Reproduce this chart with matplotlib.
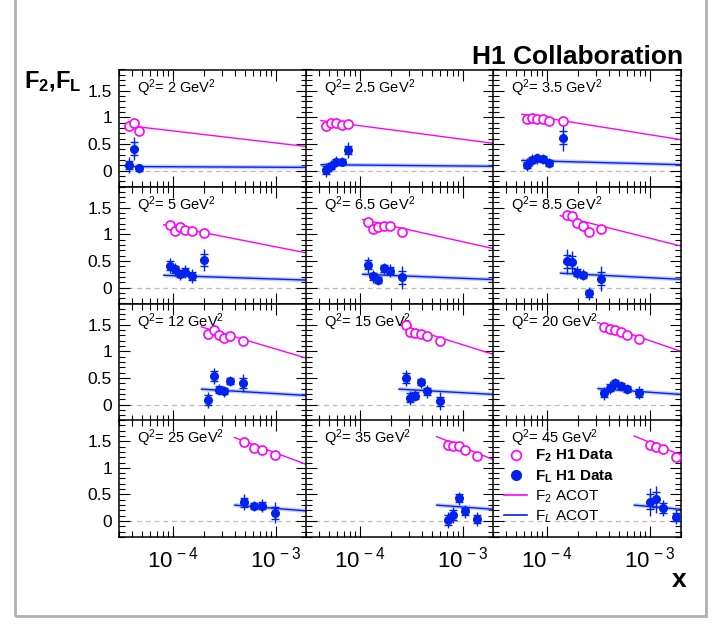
import numpy as np
import matplotlib
matplotlib.use('Agg')
import matplotlib.pyplot as plt
import matplotlib.ticker as ticker
from matplotlib.lines import Line2D
from matplotlib.patches import Rectangle

plt.rcParams['font.family'] = ['Liberation Sans', 'DejaVu Sans']
plt.rcParams['mathtext.fontset'] = 'custom'
plt.rcParams['mathtext.rm'] = 'Liberation Sans'
plt.rcParams['mathtext.it'] = 'Liberation Sans:italic'
plt.rcParams['mathtext.bf'] = 'Liberation Sans:bold'

# Q2 bins (GeV^2)
q2_labels = ['2', '2.5', '3.5', '5', '6.5', '8.5', '12', '15', '20', '25', '35', '45']

# x values of the measurements per bin
x_data = [
    [3.75e-5, 4.19e-5, 4.68e-5],
    [4.74e-5, 5.26e-5, 5.84e-5, 6.67e-5, 7.72e-5],
    [6.47e-5, 7.22e-5, 8.07e-5, 9.15e-5, 1.05e-4, 1.42e-4],
    [9.35e-5, 1.045e-4, 1.167e-4, 1.31e-4, 1.52e-4, 2.02e-4],
    [1.21e-4, 1.34e-4, 1.51e-4, 1.70e-4, 1.96e-4, 2.59e-4],
    [1.56e-4, 1.75e-4, 1.94e-4, 2.22e-4, 2.55e-4, 3.36e-4],
    [2.20e-4, 2.48e-4, 2.79e-4, 3.14e-4, 3.61e-4, 4.79e-4],
    [2.77e-4, 3.07e-4, 3.45e-4, 3.89e-4, 4.48e-4, 5.92e-4],
    [3.61e-4, 4.10e-4, 4.57e-4, 5.18e-4, 5.97e-4, 7.89e-4],
    [4.85e-4, 6.06e-4, 7.39e-4, 9.72e-4],
    [7.13e-4, 7.96e-4, 9.10e-4, 1.04e-3, 1.37e-3],
    [1.01e-3, 1.15e-3, 1.33e-3, 1.77e-3],
]

f2_data = [
    [0.84, 0.90, 0.74],
    [0.84, 0.90, 0.89, 0.86, 0.88],
    [0.97, 0.98, 0.97, 0.96, 0.925, 0.925],
    [1.18, 1.07, 1.13, 1.09, 1.07, 1.02],
    [1.23, 1.10, 1.14, 1.16, 1.15, 1.05],
    [1.36, 1.34, 1.21, 1.16, 1.04, 1.10],
    [1.33, 1.40, 1.31, 1.26, 1.28, 1.20],
    [1.50, 1.37, 1.34, 1.33, 1.28, 1.19],
    [1.45, 1.42, 1.40, 1.36, 1.30, 1.23],
    [1.49, 1.38, 1.34, 1.25],
    [1.43, 1.42, 1.41, 1.33, 1.23],
    [1.43, 1.39, 1.36, 1.21],
]

fl_data = [
    [0.10, 0.41, 0.04],
    [0.01, 0.09, 0.17, 0.17, 0.39],
    [0.11, 0.20, 0.23, 0.22, 0.14, 0.62],
    [0.41, 0.34, 0.25, 0.30, 0.22, 0.52],
    [0.43, 0.21, 0.14, 0.36, 0.32, 0.19],
    [0.49, 0.48, 0.28, 0.24, -0.11, 0.17],
    [0.09, 0.54, 0.28, 0.25, 0.44, 0.40],
    [0.50, 0.13, 0.17, 0.42, 0.25, 0.06],
    [0.21, 0.32, 0.40, 0.35, 0.29, 0.22],
    [0.35, 0.28, 0.29, 0.155],
    [0.02, 0.11, 0.43, 0.18, 0.04],
    [0.36, 0.41, 0.24, 0.08],
]

# total errors
fl_err = [
    [0.15, 0.22, 0.08],
    [0.13, 0.11, 0.10, 0.08, 0.15],
    [0.12, 0.11, 0.10, 0.09, 0.10, 0.25],
    [0.14, 0.12, 0.10, 0.12, 0.13, 0.20],
    [0.15, 0.12, 0.10, 0.10, 0.12, 0.22],
    [0.23, 0.20, 0.12, 0.10, 0.12, 0.24],
    [0.15, 0.15, 0.10, 0.10, 0.10, 0.17],
    [0.15, 0.13, 0.10, 0.10, 0.12, 0.17],
    [0.12, 0.12, 0.10, 0.10, 0.10, 0.12],
    [0.15, 0.10, 0.12, 0.20],
    [0.15, 0.15, 0.12, 0.12, 0.13],
    [0.26, 0.25, 0.15, 0.13],
]

# statistical errors (inner ticks)
fl_stat = [
    [0.08, 0.12, 0.05],
    [0.07, 0.06, 0.05, 0.05, 0.08],
    [0.06, 0.06, 0.05, 0.05, 0.06, 0.13],
    [0.08, 0.07, 0.06, 0.07, 0.07, 0.11],
    [0.09, 0.07, 0.06, 0.06, 0.07, 0.12],
    [0.12, 0.11, 0.07, 0.06, 0.07, 0.13],
    [0.09, 0.09, 0.06, 0.06, 0.06, 0.09],
    [0.09, 0.08, 0.06, 0.06, 0.07, 0.09],
    [0.07, 0.07, 0.06, 0.06, 0.06, 0.07],
    [0.08, 0.06, 0.07, 0.11],
    [0.09, 0.09, 0.07, 0.07, 0.07],
    [0.14, 0.14, 0.09, 0.07],
]

# ACOT predictions: start x, value at start and at right edge
acot_xstart = [3.46e-5, 4.19e-5, 5.71e-5, 8.14e-5, 1.06e-4, 1.35e-4,
               1.89e-4, 2.39e-4, 3.12e-4, 3.95e-4, 5.54e-4, 7.02e-4]
acot_f2 = [(0.85, 0.45), (0.94, 0.51), (1.06, 0.58), (1.18, 0.65),
           (1.28, 0.73), (1.35, 0.78), (1.46, 0.87), (1.50, 0.94),
           (1.54, 1.00), (1.57, 1.06), (1.59, 1.15), (1.60, 1.24)]
acot_fl = [(0.075, 0.06), (0.11, 0.08), (0.19, 0.11), (0.23, 0.14),
           (0.25, 0.15), (0.27, 0.155), (0.29, 0.17), (0.29, 0.19),
           (0.30, 0.19), (0.30, 0.19), (0.30, 0.22), (0.30, 0.22)]

XMIN, XMAX = 3.0e-5, 2.0e-3
YMIN, YMAX = -0.3, 1.9

W, H = 721, 626
fig = plt.figure(figsize=(W / 100, H / 100), dpi=100)

MAG = '#ff00ff'
BLUE = '#0022ee'

col_left = [119, 306, 493]
col_w = 188
row_top = [69.5, 186.5, 303.5, 420.0]
row_h = 117

for i, q2 in enumerate(q2_labels):
    r, c = divmod(i, 3)
    ax = fig.add_axes([col_left[c] / W, 1 - (row_top[r] + row_h) / H, col_w / W, row_h / H])
    ax.set_xscale('log')
    ax.set_xlim(XMIN, XMAX)
    ax.set_ylim(YMIN, YMAX)

    ax.axhline(0, color='#bbbbbb', lw=0.9, ls=(0, (4, 3)), zorder=1)

    # ACOT lines
    xs = [acot_xstart[i], XMAX]
    ax.plot(xs, acot_f2[i], color=MAG, lw=1.0, zorder=2)
    ax.plot(xs, acot_fl[i], color='#8090ff', lw=3.0, alpha=0.45, solid_capstyle='butt', zorder=2)
    ax.plot(xs, acot_fl[i], color=BLUE, lw=1.0, zorder=2)

    # FL data
    ax.errorbar(x_data[i], fl_data[i], yerr=fl_err[i], fmt='none', ecolor=BLUE,
                elinewidth=1.0, capsize=0, zorder=3)
    ax.errorbar(x_data[i], fl_data[i], yerr=fl_stat[i], fmt='o', color=BLUE,
                ms=5.5, elinewidth=1.0, capsize=3, capthick=1.0, zorder=4)
    # F2 data
    ax.plot(x_data[i], f2_data[i], 'o', mfc='white', mec=MAG, mew=1.2, ms=6.5, zorder=5)

    ax.text(0.095, 0.935, r'Q$^{2}$= ' + q2 + r' GeV$^{2}$', transform=ax.transAxes,
            fontsize=10.5, ha='left', va='top')

    ax.yaxis.set_major_locator(ticker.MultipleLocator(0.5))
    ax.yaxis.set_minor_locator(ticker.MultipleLocator(0.1))
    ax.xaxis.set_major_locator(ticker.LogLocator(base=10, numticks=10))
    ax.xaxis.set_minor_locator(ticker.LogLocator(base=10, subs=np.arange(2, 10), numticks=20))
    ax.tick_params(which='both', direction='in', top=True, right=True, width=0.8)
    ax.tick_params(which='major', length=8)
    ax.tick_params(which='minor', length=4)
    for s in ax.spines.values():
        s.set_linewidth(1.1)

    if c == 0:
        ax.yaxis.set_major_formatter(ticker.FuncFormatter(lambda v, p: '%g' % v))
        ax.tick_params(axis='y', labelsize=12.5, pad=5)
    else:
        ax.set_yticklabels([])
    if r == 3:
        ax.xaxis.set_major_formatter(ticker.FuncFormatter(lambda v, p: r'$10^{\,%d}$' % round(np.log10(v))))
        ax.xaxis.set_minor_formatter(ticker.NullFormatter())
        ax.tick_params(axis='x', labelsize=16, pad=7)
    else:
        ax.set_xticklabels([])
        ax.xaxis.set_minor_formatter(ticker.NullFormatter())

    if i == 11:
        handles = [
            Line2D([], [], ls='none', marker='o', mfc='white', mec=MAG, mew=1.2, ms=7),
            Line2D([], [], ls='none', marker='o', color=BLUE, ms=7),
            Line2D([], [], color=MAG, lw=1.2),
            Line2D([], [], color=BLUE, lw=1.2),
        ]
        labels = [r'$\mathbf{F_2}$ H1 Data', r'$\mathbf{F_L}$ H1 Data',
                  r'F$_2$ ACOT', r'F$_L$ ACOT']
        leg = ax.legend(handles, labels, loc='upper left', bbox_to_anchor=(0.06, 0.76),
                        frameon=False, fontsize=11, borderpad=0, borderaxespad=0,
                        handlelength=1.5, handletextpad=0.5, labelspacing=0.25)
        for t in leg.get_texts()[:2]:
            t.set_fontweight('bold')

fig.text(683 / W, 1 - 57 / H, 'H1 Collaboration', fontsize=19, fontweight='bold',
         ha='right', va='center')
fig.text(24 / W, 1 - 82 / H, r'$\mathbf{F_2}$,$\mathbf{F_L}$', fontsize=17,
         fontweight='bold', ha='left', va='center')
fig.text(679 / W, 1 - 580 / H, 'x', fontsize=19, fontweight='bold', ha='center', va='center')

fig.patches.append(Rectangle((15 / W, 1 - 616 / H), (706 - 15) / W, 640 / H,
                             transform=fig.transFigure, fill=False,
                             edgecolor='#b0b0b0', lw=2))

fig.savefig('out.png', dpi=100)
